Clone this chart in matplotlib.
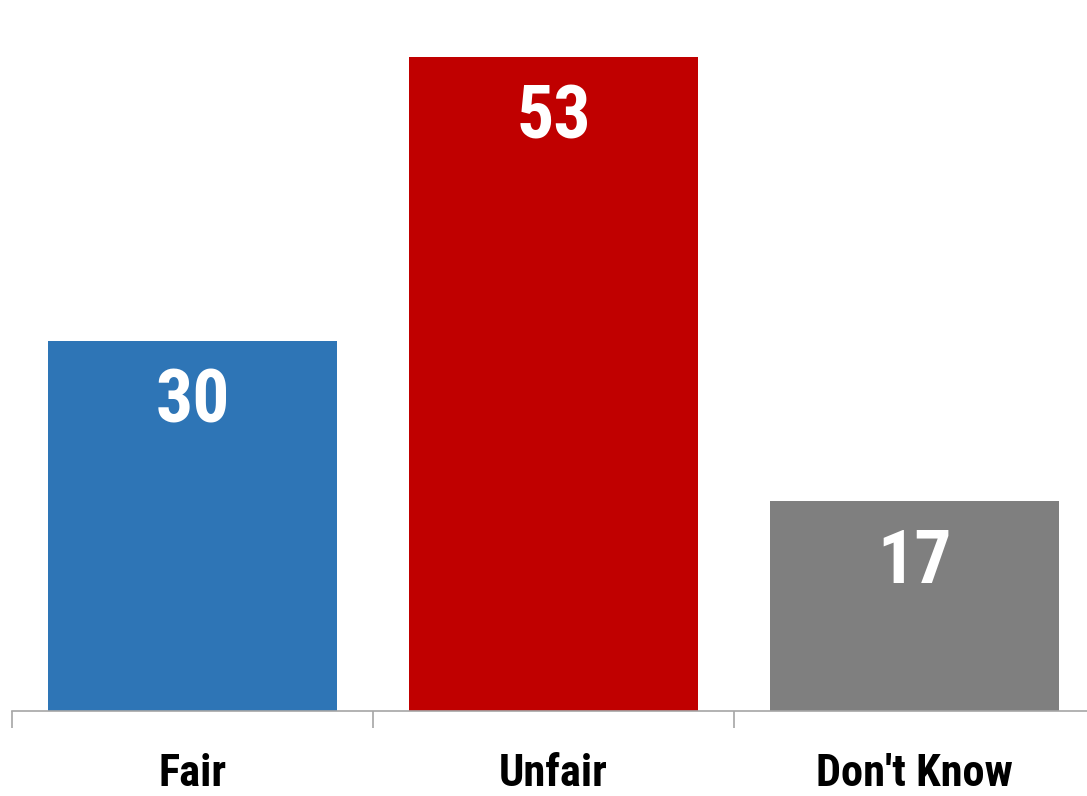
import matplotlib
matplotlib.use("Agg")
import matplotlib.pyplot as plt
from matplotlib import font_manager
from matplotlib.font_manager import FontProperties

categories = ["Fair", "Unfair", "Don't Know"]
values = [30, 53, 17]
colors = ["#2E75B6", "#C00000", "#7F7F7F"]

# find a condensed bold font if one is installed
prefs = ["LiberationSansNarrow-Bold", "RobotoCondensed-Bold", "OpenSansCondensed-Bold",
         "DejaVuSansCondensed-Bold", "Condensed-Bold", "Narrow-Bold", "Condensed", "Narrow"]
fpath = None
files = [f.fname for f in font_manager.fontManager.ttflist]
for p in prefs:
    for fn in files:
        if p.lower() in fn.lower().replace(" ", ""):
            fpath = fn
            break
    if fpath:
        break

def fp(size):
    if fpath:
        return FontProperties(fname=fpath, size=size)
    return FontProperties(family="DejaVu Sans", weight="bold", stretch="condensed", size=size)

W, H = 1087, 796
fig = plt.figure(figsize=(W / 100, H / 100), dpi=100)
ax = fig.add_axes([12 / W, (H - 711) / H, 1083 / W, 711 / H])

x = list(range(len(categories)))
ax.bar(x, values, width=0.8, color=colors, zorder=2)
ax.set_xlim(-0.5, 2.5)
ax.set_ylim(0, 57.6)

for xi, v in zip(x, values):
    ax.text(xi, v - 5.0, str(v), ha="center", va="center", color="white",
            fontproperties=fp(53))

for s in ["top", "right", "left"]:
    ax.spines[s].set_visible(False)
ax.spines["bottom"].set_color("#A6A6A6")
ax.spines["bottom"].set_linewidth(1.2)
ax.set_yticks([])
ax.set_xticks([-0.5, 0.5, 1.5, 2.5], minor=False)
ax.set_xticklabels([])
ax.tick_params(axis="x", which="major", length=12, width=1.2, color="#A6A6A6", direction="out")
ax.set_xticks(x, minor=True)
ax.set_xticklabels(categories, minor=True, fontproperties=fp(32))
ax.tick_params(axis="x", which="minor", length=0, pad=54)
for lab in ax.get_xticklabels(minor=True):
    lab.set_va("baseline")

fig.savefig("out.png", dpi=100)
